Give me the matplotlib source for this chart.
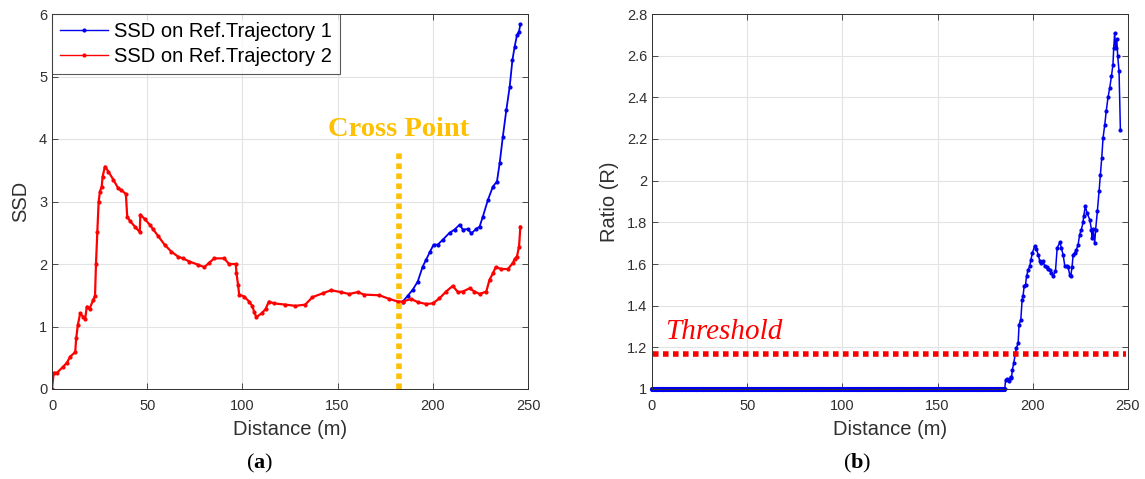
import numpy as np
import matplotlib
matplotlib.use("Agg")
import matplotlib.pyplot as plt

plt.rcParams['font.family'] = ['Liberation Sans', 'DejaVu Sans']
plt.rcParams['mathtext.fontset'] = 'custom'
plt.rcParams['mathtext.rm'] = 'Liberation Serif'
plt.rcParams['mathtext.bf'] = 'Liberation Serif:bold'

# (a) SSD on reference trajectory 2 (red)
dist_t2 = [0, 0.9, 2.6, 6, 7.8, 9.6, 12.2, 12.7, 13.6, 14.8, 16.2, 17.4, 18.3, 19.7,
           21.7, 22.6, 23.1, 23.8, 24.5, 25.2, 26.1, 26.6, 27.8, 29.6, 32.2, 34.8,
           36.5, 38.8, 39.5, 40.9, 43.5, 46.1, 46.4, 48.7, 51.3, 53, 55.7, 59.1,
           62.6, 66.1, 68.7, 72.2, 76.5, 80, 82.6, 85.2, 90.4, 93, 96.5, 96.9, 97.7,
           98.3, 100.9, 103.5, 105.2, 106.1, 107.3, 110.1, 112.2, 113.9, 116.5,
           122.6, 127.8, 133, 136.8, 142.1, 146.5, 151.8, 156.1, 160.5, 164, 171.9,
           177.2, 181.6, 184.2, 188.6, 192.1, 196.5, 200, 203.5, 207, 210.5, 213.2,
           215.8, 219.3, 221.9, 224.6, 228.1, 229.8, 231.6, 233, 236, 239.5, 242.1,
           243, 244.2, 245.3, 246]
ssd_t2 = [0, 0.26, 0.26, 0.36, 0.42, 0.52, 0.59, 0.81, 1.03, 1.21, 1.16, 1.12, 1.32, 1.28,
          1.43, 1.49, 2.0, 2.51, 3.0, 3.16, 3.24, 3.4, 3.56, 3.48, 3.35, 3.21,
          3.18, 3.12, 2.76, 2.69, 2.6, 2.51, 2.79, 2.72, 2.63, 2.56, 2.45, 2.31,
          2.2, 2.12, 2.09, 2.04, 1.99, 1.95, 2.02, 2.09, 2.09, 2.0, 2.0, 1.85, 1.67,
          1.51, 1.48, 1.4, 1.33, 1.24, 1.15, 1.21, 1.28, 1.4, 1.37,
          1.35, 1.33, 1.35, 1.47, 1.53, 1.58, 1.55, 1.52, 1.55, 1.51, 1.5,
          1.44, 1.4, 1.4, 1.44, 1.39, 1.36, 1.37, 1.45, 1.56, 1.65, 1.55,
          1.56, 1.61, 1.56, 1.52, 1.56, 1.75, 1.85, 1.95, 1.92, 1.92, 2.02,
          2.08, 2.12, 2.28, 2.6]

# (a) SSD on reference trajectory 1 (blue), after the cross point
dist_t1 = [184.2, 186.8, 189.5, 192.1, 194.7, 196.5, 198.6, 200.4, 202.6, 205.3, 208.8,
           211.4, 214.1, 215.8, 218.4, 220.2, 222.8, 224.6, 226.3, 229, 231.6, 233.7,
           235.1, 236.8, 238.6, 240.4, 241.8, 243, 244.2, 245.3, 246]
ssd_t1 = [1.4, 1.49, 1.59, 1.72, 1.96, 2.07, 2.2, 2.31, 2.31, 2.39, 2.5,
          2.55, 2.63, 2.55, 2.56, 2.49, 2.56, 2.6, 2.76, 3.03, 3.24, 3.32,
          3.61, 4.04, 4.46, 4.84, 5.26, 5.48, 5.66, 5.72, 5.84]

cross_x = 182
cross_top = 3.8

# (b) ratio
dist_r = [0, 185.3, 185.7, 186.7, 187.6, 188.3, 188.8, 189.3, 190, 190.9, 191.4, 192.3,
          192.8, 193.7, 194.4, 194.9, 195.5, 196.2, 196.7, 197.6, 198.4, 199, 199.8,
          201, 201.9, 202.8, 203.7, 204.5, 205.4, 206.3, 207.2, 208, 208.9, 209.8,
          210.7, 211.9, 212.8, 214.2, 215, 215.9, 216.8, 217.7, 218.5, 219.4, 219.9,
          220.6, 221.2, 222, 222.9, 223.8, 224.6, 225.5, 226.4, 226.7, 227.6, 228.5,
          229.9, 230.8, 231.1, 231.6, 232.5, 233, 233.9, 234.8, 235.5, 236.2, 236.9,
          237.8, 238.6, 239.5, 240.4, 241.3, 242.1, 242.5, 243, 243.5, 244.1, 244.6,
          245.3, 246]
ratio = [1, 1, 1.045, 1.048, 1.04, 1.06, 1.053, 1.093, 1.125, 1.173, 1.197, 1.221,
         1.309, 1.333, 1.429, 1.448, 1.496, 1.501, 1.541, 1.573, 1.589, 1.621, 1.653,
         1.688, 1.672, 1.645, 1.613, 1.605, 1.613, 1.589, 1.584, 1.576, 1.573, 1.557,
         1.544, 1.565, 1.677, 1.704, 1.677, 1.645, 1.592, 1.589, 1.584, 1.549, 1.541,
         1.584, 1.645, 1.653, 1.669, 1.693, 1.741, 1.765, 1.8, 1.829, 1.877, 1.845,
         1.813, 1.765, 1.725, 1.768, 1.701, 1.765, 1.853, 1.949, 2.029, 2.109, 2.205,
         2.269, 2.336, 2.4, 2.445, 2.501, 2.557, 2.637, 2.709, 2.637, 2.68, 2.597,
         2.525, 2.245]
threshold = 1.17

# flat part of the ratio: samples at every metre before it starts rising
flat_x = np.arange(0, 186)

fig = plt.figure(figsize=(11.45, 4.79), dpi=100)
W, H = 1145, 479
axA = fig.add_axes([52 / W, (H - 389) / H, 476 / W, 375 / H])
axB = fig.add_axes([652 / W, (H - 389) / H, 476 / W, 375 / H])

tick_col = '#303030'
for ax in (axA, axB):
    ax.set_xlim(0, 250)
    ax.set_xticks([0, 50, 100, 150, 200, 250])
    ax.grid(True, color='#e3e3e3', linewidth=0.8)
    ax.set_axisbelow(True)
    ax.tick_params(direction='in', top=True, right=True, labelsize=10.5,
                   colors=tick_col, length=4, width=0.6)
    ax.tick_params(axis='x', pad=7)
    for s in ax.spines.values():
        s.set_color('#303030')
        s.set_linewidth(0.7)
    ax.set_xlabel('Distance (m)', fontsize=14.5, color=tick_col, labelpad=5)

# (a)
axA.set_ylim(0, 6)
axA.plot(dist_t1, ssd_t1, '-', color='#0000ee', marker='.', markersize=4,
         linewidth=1.3, label='SSD on Ref.Trajectory 1')
axA.plot(dist_t2, ssd_t2, '-', color='#ff0000', marker='.', markersize=4,
         linewidth=1.6, label='SSD on Ref.Trajectory 2')
axA.plot([cross_x, cross_x], [0, cross_top], color='#ffc000', linewidth=4,
         linestyle=(0, (1, 0.8)))
axA.text(cross_x, 4.05, 'Cross Point', color='#ffc000', fontsize=20.5,
         fontweight='bold', family='Liberation Serif', ha='center', va='baseline')
axA.set_ylabel('SSD', fontsize=14.5, color=tick_col, labelpad=6)
leg = axA.legend(loc='upper left', fontsize=14.5, frameon=True, fancybox=False,
                 borderaxespad=0, handlelength=2.4, borderpad=0.4,
                 labelspacing=0.3, handletextpad=0.3)
leg.get_frame().set_edgecolor('#303030')
leg.get_frame().set_linewidth(0.8)
for h in leg.get_lines():
    h.set_linewidth(1.0)

# (b)
axB.set_ylim(1, 2.8)
axB.set_yticks(np.arange(1, 2.81, 0.2))
axB.set_yticklabels(['1', '1.2', '1.4', '1.6', '1.8', '2', '2.2', '2.4', '2.6', '2.8'])
axB.plot(flat_x, np.interp(flat_x, dist_r, ratio), '-', color='#0000ee',
         marker='.', markersize=5.5, linewidth=2.4, clip_on=False)
axB.plot(dist_r, ratio, '-', color='#0000ee', marker='.', markersize=4,
         linewidth=1.1)
axB.plot([0.5, 249], [threshold, threshold], color='#ff0000', linewidth=4,
         linestyle=(0, (1, 0.8)))
axB.text(7, 1.24, 'Threshold', color='#ff0000', fontsize=21, style='italic',
         family='Liberation Serif', ha='left', va='baseline')
axB.set_ylabel('Ratio (R)', fontsize=14.5, color=tick_col, labelpad=6)

fig.text(260 / W, 1 - 463 / H, r'$\mathrm{(}\mathbf{a}\mathrm{)}$', fontsize=16,
         ha='center', va='center')
fig.text(857 / W, 1 - 463 / H, r'$\mathrm{(}\mathbf{b}\mathrm{)}$', fontsize=16,
         ha='center', va='center')

fig.savefig('out.png', dpi=100)
